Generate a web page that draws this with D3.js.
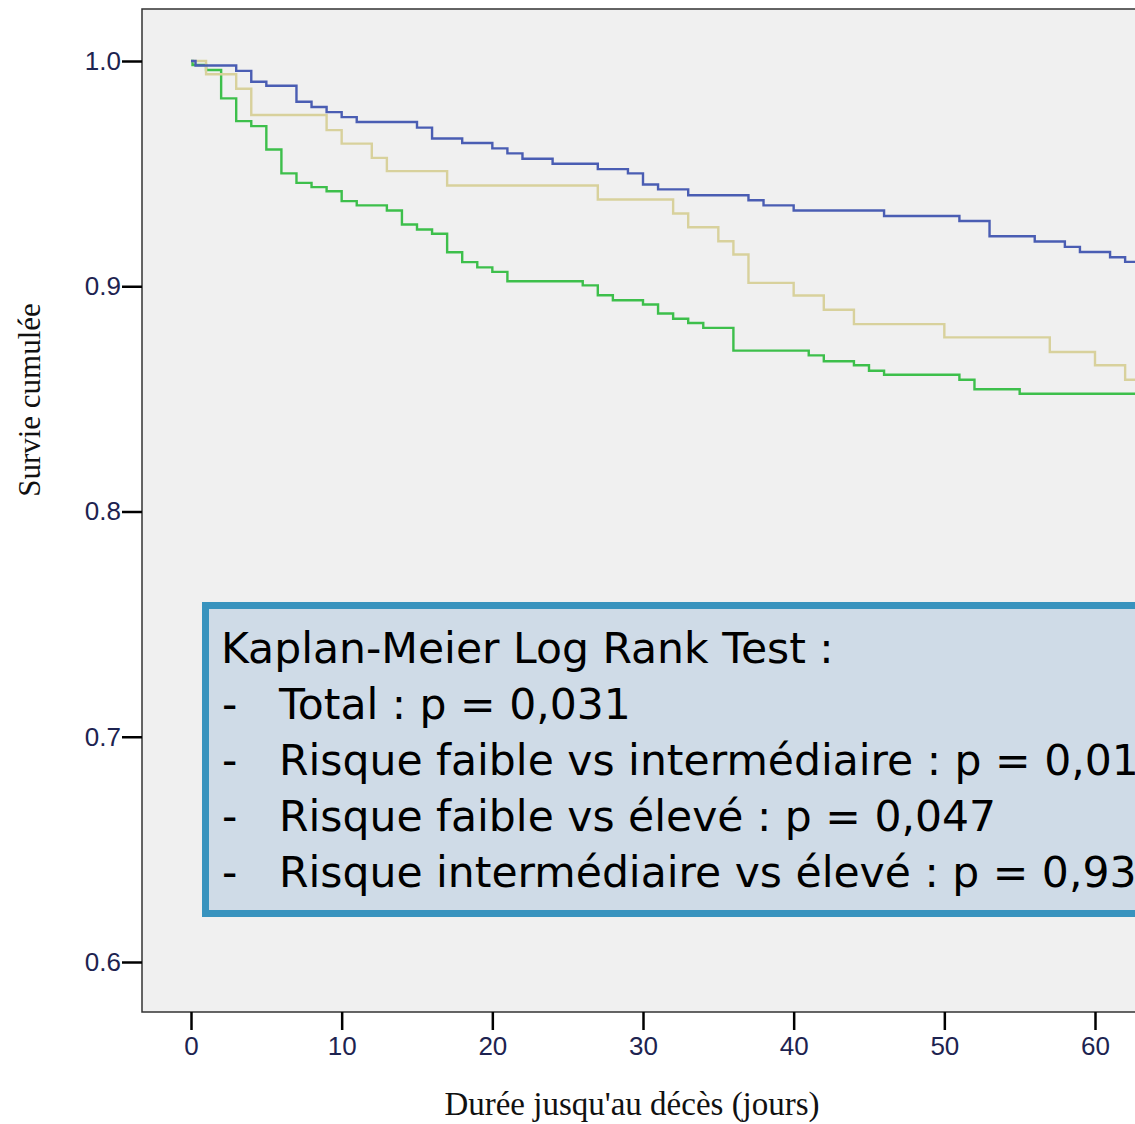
<!DOCTYPE html>
<html>
<head>
<meta charset="utf-8">
<script src="https://cdn.jsdelivr.net/npm/d3@7"></script>
<style>
  body { margin: 0; background: #fff; }
  svg { display: block; }
</style>
</head>
<body>
<svg id="chart"></svg>
<script>
const width = 1135, height = 1124;

// survival steps (time in days, cumulative survival)
const blueTimes = [0, 0.3, 3, 4, 5, 7, 8, 9, 10, 11, 15, 16, 18, 20, 21, 22, 24, 27, 29, 30, 31, 33, 37, 38, 40, 46, 51, 53, 56, 58, 59, 61, 62];
const blueSurv = [1, 0.998, 0.9956, 0.9908, 0.989, 0.9819, 0.9796, 0.9773, 0.9751, 0.9729, 0.9704, 0.9656, 0.9636, 0.9612, 0.959, 0.9566, 0.9544, 0.952, 0.9501, 0.9452, 0.943, 0.9404, 0.9382, 0.9359, 0.9336, 0.9312, 0.929, 0.9222, 0.9199, 0.9175, 0.9152, 0.9129, 0.9108];

const yellowTimes = [0, 1, 3, 4, 9, 10, 12, 13, 17, 27, 32, 33, 35, 36, 37, 40, 42, 44, 50, 57, 60, 62];
const yellowSurv = [1, 0.9941, 0.9877, 0.976, 0.9693, 0.9633, 0.957, 0.9511, 0.9447, 0.9385, 0.9323, 0.9262, 0.92, 0.9141, 0.9015, 0.8959, 0.8896, 0.8832, 0.8773, 0.8708, 0.8649, 0.8585];

const greenTimes = [0, 0.1, 1, 2, 3, 4, 5, 6, 7, 8, 9, 10, 11, 13, 14, 15, 16, 17, 18, 19, 20, 21, 26, 27, 28, 30, 31, 32, 33, 34, 36, 41, 42, 44, 45, 46, 51, 52, 55];
const greenSurv = [1, 0.9982, 0.996, 0.9834, 0.9733, 0.9711, 0.9607, 0.9501, 0.9459, 0.944, 0.9422, 0.9378, 0.9359, 0.9336, 0.9274, 0.9252, 0.9233, 0.9151, 0.9107, 0.9084, 0.9064, 0.9022, 0.9004, 0.896, 0.8938, 0.8919, 0.8879, 0.8856, 0.8837, 0.8815, 0.8714, 0.8693, 0.8667, 0.8649, 0.8625, 0.8607, 0.8585, 0.8543, 0.8523];

const endTime = 64;

const xTicks = [0, 10, 20, 30, 40, 50, 60];
const yTicks = [0.6, 0.7, 0.8, 0.9, 1.0];

const statLines = [
    "Total : p = 0,031",
    "Risque faible vs intermédiaire : p = 0,01",
    "Risque faible vs élevé : p = 0,047",
    "Risque intermédiaire vs élevé : p = 0,93"
];

const svg = d3.select("#chart")
    .attr("width", width)
    .attr("height", height);

const x = d3.scaleLinear().domain([0, 60]).range([191, 1095]);
const y = d3.scaleLinear().domain([0.6, 1.0]).range([962, 61]);

// plot frame
svg.append("rect")
    .attr("x", 142).attr("y", 9)
    .attr("width", 1200).attr("height", 1003)
    .attr("fill", "#f0f0f0")
    .attr("stroke", "#333")
    .attr("stroke-width", 1.5);

// axes
const yAxis = svg.append("g")
    .attr("transform", "translate(142,0)")
    .call(d3.axisLeft(y).tickValues(yTicks).tickFormat(d3.format(".1f")).tickSize(20).tickPadding(1));

const xAxis = svg.append("g")
    .attr("transform", "translate(0,1012)")
    .call(d3.axisBottom(x).tickValues(xTicks).tickSize(18).tickPadding(7));

[yAxis, xAxis].forEach(g => {
    g.select(".domain").remove();
    g.selectAll(".tick line").attr("stroke", "#000").attr("stroke-width", 2.5);
    g.selectAll(".tick text")
        .attr("fill", "#1d2350")
        .style("font-family", "'Liberation Sans', Arial, sans-serif")
        .style("font-size", "26px");
});

// survival curves
const line = d3.line()
    .x(d => x(d[0]))
    .y(d => y(d[1]))
    .curve(d3.curveStepAfter);

const series = [
    { times: greenTimes, surv: greenSurv, color: "#3dbf4b" },
    { times: yellowTimes, surv: yellowSurv, color: "#d8d19c" },
    { times: blueTimes, surv: blueSurv, color: "#4a5db3" }
];

series.forEach(s => {
    const pts = s.times.map((t, i) => [t, s.surv[i]]);
    pts.push([endTime, s.surv[s.surv.length - 1]]);
    svg.append("path")
        .datum(pts)
        .attr("fill", "none")
        .attr("stroke", s.color)
        .attr("stroke-width", 2.4)
        .attr("d", line);
});

// axis titles
svg.append("text")
    .attr("x", 632).attr("y", 1115)
    .attr("text-anchor", "middle")
    .style("font-family", "'Liberation Serif', 'Times New Roman', serif")
    .style("font-size", "33px")
    .attr("fill", "#111")
    .text("Durée jusqu'au décès (jours)");

svg.append("text")
    .attr("transform", "translate(40,400) rotate(-90)")
    .attr("text-anchor", "middle")
    .style("font-family", "'Liberation Serif', 'Times New Roman', serif")
    .style("font-size", "31px")
    .attr("fill", "#111")
    .text("Survie cumulée");

// log rank box
svg.append("rect")
    .attr("x", 205.5).attr("y", 605.5)
    .attr("width", 1000).attr("height", 308)
    .attr("fill", "#cfdbe7")
    .attr("stroke", "#3893be")
    .attr("stroke-width", 7);

const box = svg.append("g")
    .style("font-family", "'DejaVu Sans', sans-serif")
    .style("font-size", "42.5px")
    .attr("fill", "#000");

box.append("text")
    .attr("x", 221).attr("y", 663)
    .text("Kaplan-Meier Log Rank Test :");

statLines.forEach((txt, i) => {
    box.append("text").attr("x", 222).attr("y", 719 + i * 56).text("-");
    box.append("text").attr("x", 279).attr("y", 719 + i * 56).text(txt);
});
</script>
</body>
</html>
